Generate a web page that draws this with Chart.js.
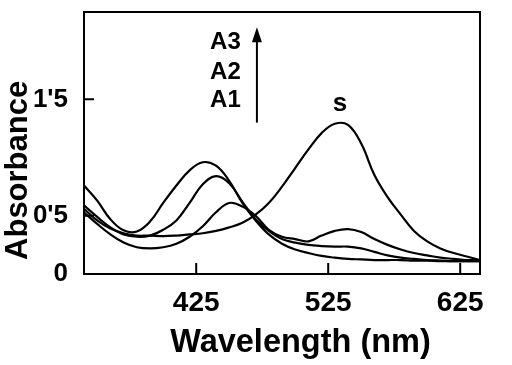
<!DOCTYPE html>
<html>
<head>
<meta charset="utf-8">
<script src="https://cdn.jsdelivr.net/npm/chart.js@4.4.1/dist/chart.umd.min.js"></script>
<style>
  html, body { margin: 0; padding: 0; background: #fff; }
  #wrap { width: 512px; height: 365px; position: relative; }
</style>
</head>
<body>
<div id="wrap"><canvas id="myChart"></canvas></div>
<script>
// wavelength grid (nm)
const wavelengths = [340, 350, 360, 370, 380, 390, 400, 410, 420, 430, 440, 450, 460, 470, 480, 490,
                     500, 510, 520, 530, 540, 550, 560, 570, 580, 590, 600, 610, 620, 630, 640];

const absA3 = [0.76, 0.63, 0.47, 0.375, 0.365, 0.45, 0.61, 0.76, 0.89, 0.96, 0.93, 0.80, 0.61, 0.46, 0.34, 0.26,
               0.21, 0.18, 0.155, 0.14, 0.13, 0.125, 0.12, 0.12, 0.12, 0.115, 0.115, 0.11, 0.11, 0.11, 0.11];
const absA2 = [0.59, 0.49, 0.40, 0.34, 0.32, 0.33, 0.38, 0.46, 0.61, 0.77, 0.84, 0.78, 0.62, 0.47, 0.37, 0.30,
               0.27, 0.25, 0.24, 0.235, 0.235, 0.22, 0.19, 0.16, 0.14, 0.13, 0.12, 0.115, 0.11, 0.11, 0.11];
const absA1 = [0.53, 0.43, 0.34, 0.27, 0.23, 0.22, 0.23, 0.26, 0.32, 0.41, 0.53, 0.61, 0.58, 0.50, 0.38, 0.32,
               0.30, 0.28, 0.33, 0.37, 0.385, 0.36, 0.30, 0.25, 0.21, 0.18, 0.16, 0.14, 0.13, 0.12, 0.12];
const absS  = [0.56, 0.46, 0.39, 0.35, 0.33, 0.33, 0.325, 0.33, 0.34, 0.35, 0.37, 0.40, 0.44, 0.51, 0.61, 0.75,
               0.91, 1.07, 1.21, 1.29, 1.28, 1.12, 0.85, 0.66, 0.51, 0.37, 0.28, 0.22, 0.18, 0.15, 0.12];

const xTicks = [425, 525, 625];
const xTickLabels = ['425', '525', '625'];
const yTicks = [0, 0.5, 1.5];
const yTickLabels = ['0', "0'5", "1'5"];

const FONT = 'Liberation Sans';

function series(vals) {
    return wavelengths.map(function (w, i) { return { x: w, y: vals[i] }; });
}

function line(label, vals) {
    return {
        label: label,
        data: series(vals),
        borderColor: '#000',
        borderWidth: 2.2,
        pointRadius: 0,
        tension: 0.4,
        fill: false
    };
}

// box frame, inward ticks, axis titles and the in-plot labels
const framePlugin = {
    id: 'framePlugin',
    afterDraw: function (chart) {
        const ctx = chart.ctx;
        const a = chart.chartArea;
        const x = chart.scales.x;
        const y = chart.scales.y;
        ctx.save();
        ctx.strokeStyle = '#000';
        ctx.fillStyle = '#000';
        ctx.lineWidth = 2;
        ctx.strokeRect(a.left, a.top, a.right - a.left, a.bottom - a.top);

        ctx.beginPath();
        xTicks.forEach(function (v) {
            let px = x.getPixelForValue(v);
            ctx.moveTo(px, a.bottom);
            ctx.lineTo(px, a.bottom - 11);
        });
        [0.5, 1.5].forEach(function (v) {
            let py = y.getPixelForValue(v);
            ctx.moveTo(a.left, py);
            ctx.lineTo(a.left + 10, py);
        });
        ctx.stroke();

        // axis titles
        ctx.font = 'bold 32.5px "' + FONT + '"';
        ctx.textAlign = 'center';
        ctx.textBaseline = 'middle';
        ctx.fillText('Wavelength (nm)', x.getPixelForValue(504), a.bottom + 69);
        ctx.save();
        ctx.font = 'bold 31px "' + FONT + '"';
        ctx.translate(18, y.getPixelForValue(0.89));
        ctx.rotate(-Math.PI / 2);
        ctx.fillText('Absorbance', 0, 0);
        ctx.restore();

        ctx.font = 'bold 24px "' + FONT + '"';
        ctx.textAlign = 'left';
        ctx.fillText('A3', x.getPixelForValue(435.5), y.getPixelForValue(1.99));
        ctx.fillText('A2', x.getPixelForValue(435.5), y.getPixelForValue(1.73));
        ctx.fillText('A1', x.getPixelForValue(435.5), y.getPixelForValue(1.49));

        // arrow
        let ax = x.getPixelForValue(471);
        let top = y.getPixelForValue(2.12);
        ctx.beginPath();
        ctx.moveTo(ax, y.getPixelForValue(1.30));
        ctx.lineTo(ax, top + 10);
        ctx.stroke();
        ctx.beginPath();
        ctx.moveTo(ax, top);
        ctx.lineTo(ax - 5, top + 15);
        ctx.lineTo(ax + 5, top + 15);
        ctx.closePath();
        ctx.fill();

        ctx.font = 'bold 26px "' + FONT + '"';
        ctx.textAlign = 'center';
        ctx.fillText('s', x.getPixelForValue(534), y.getPixelForValue(1.46));
        ctx.restore();
    }
};

const ctx = document.getElementById('myChart').getContext('2d');

new Chart(ctx, {
    type: 'line',
    data: {
        datasets: [
            line('A3', absA3),
            line('A2', absA2),
            line('A1', absA1),
            line('S', absS)
        ]
    },
    options: {
        responsive: true,
        maintainAspectRatio: false,
        animation: false,
        layout: { padding: { top: 12, right: 32, left: 0, bottom: 0 } },
        plugins: {
            legend: { display: false },
            tooltip: { enabled: false }
        },
        scales: {
            x: {
                type: 'linear',
                min: 340,
                max: 640,
                afterBuildTicks: function (s) { s.ticks = xTicks.map(function (v) { return { value: v }; }); },
                afterFit: function (s) { s.height = 91; s.paddingLeft = 0; s.paddingRight = 0; },
                grid: { display: false, drawTicks: false },
                border: { display: false },
                ticks: {
                    color: '#000',
                    font: { family: FONT, size: 28, weight: 'bold' },
                    padding: 12,
                    maxRotation: 0,
                    callback: function (v, i) { return xTickLabels[i]; }
                }
            },
            y: {
                min: 0,
                max: 2.25,
                afterBuildTicks: function (s) { s.ticks = yTicks.map(function (v) { return { value: v }; }); },
                afterFit: function (s) { s.width = 84; s.paddingTop = 0; s.paddingBottom = 0; },
                grid: { display: false, drawTicks: false },
                border: { display: false },
                ticks: {
                    color: '#000',
                    font: { family: FONT, size: 26, weight: 'bold' },
                    padding: 16,
                    callback: function (v, i) { return yTickLabels[i]; }
                }
            }
        }
    },
    plugins: [framePlugin]
});
</script>
</body>
</html>
